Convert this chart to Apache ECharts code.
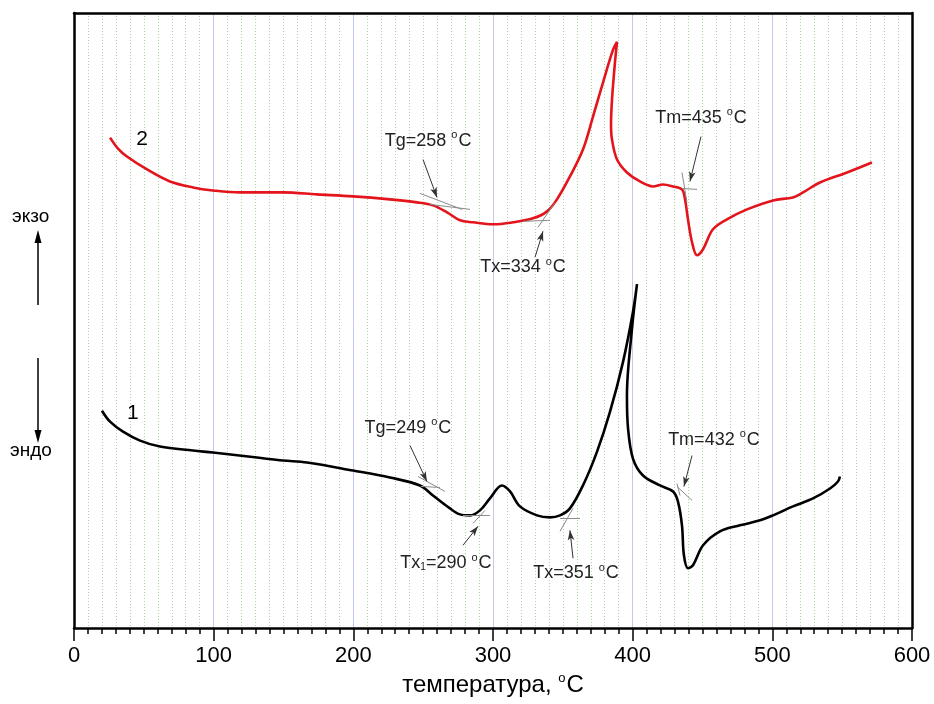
<!DOCTYPE html>
<html lang="ru">
<head>
<meta charset="UTF-8">
<title>DSC</title>
<style>
  html, body { margin: 0; padding: 0; background: #fff; }
  #chart { width: 934px; height: 704px; }
</style>
</head>
<body>
<div id="chart"></div>
<script src="https://cdn.jsdelivr.net/npm/echarts@6/dist/echarts.min.js"></script>
<script>
// x ticks
var xTicks = [0, 100, 200, 300, 400, 500, 600];

// curve 2 (red): temperature, signal (arbitrary units)
var redT = [25.8, 31.5, 37.9, 52.3, 68.7, 85.2, 99.5, 118.9, 149.6, 174.0, 199.8, 226.2, 245.6, 257.0,
    267.1, 276.4, 285.7, 300.0, 314.3, 328.6, 338.7, 345.8, 355.1, 364.4, 371.6, 378.7,
    385.9, 388.8, 387.3, 385.2, 384.5, 385.2, 388.8, 395.9, 405.2, 414.5, 421.7, 428.9,
    435.3, 437.5, 439.6, 442.5, 446.1, 450.4, 457.5, 467.5, 481.9, 500.5, 514.8, 522.0,
    534.1, 553.5, 571.3];
var redY = [492, 481, 473, 460, 448, 442, 439, 437, 437, 435, 433, 430, 427, 424,
    417, 409, 407, 405, 407, 411, 418, 430, 453, 480, 513, 547,
    580, 588, 567, 530, 505, 490, 470, 457, 448, 443, 445, 443,
    440, 430, 410, 387, 374, 380, 400, 410, 420, 429, 432, 437,
    447, 457, 467];

// curve 1 (black)
var blackT = [20.0, 25.8, 35.1, 47.3, 61.6, 85.2, 99.5, 131.0, 149.6, 166.8, 199.8, 226.2, 247.7,
    257.0, 269.2, 276.4, 283.5, 290.7, 297.8, 306.4, 312.2, 319.3, 331.5, 340.8, 348.0,
    355.1, 364.4, 374.5, 383.8, 393.1, 400.2, 403.1, 399.5, 395.9, 396.7, 400.2, 407.4,
    419.6, 428.9, 432.4, 435.3, 436.7, 439.6, 443.2, 450.4, 462.5, 476.8, 491.2, 500.5,
    514.8, 529.1, 541.3, 547.0, 548.4];
var blackY = [218, 207, 197, 188, 182, 178, 176, 171, 168, 166, 158, 151, 143,
    133, 120, 114, 113, 118, 130, 143, 137, 122, 113, 111, 113,
    120, 143, 177, 217, 267, 317, 345, 300, 233, 200, 170, 153,
    143, 137, 127, 103, 73, 60, 63, 83, 97, 103, 108, 113,
    122, 130, 140, 147, 152];

function zip(a, b) {
    var out = [];
    for (var i = 0; i < a.length; i++) out.push([a[i], b[i]]);
    return out;
}

var rich = {
    t: { fontSize: 18, color: '#222', fontFamily: 'Liberation Sans, Arial', lineHeight: 22 },
    s: { fontSize: 11, color: '#222', fontFamily: 'Liberation Sans, Arial', verticalAlign: 'top', lineHeight: 22, padding: [0, 1, 13, 0] },
    b: { fontSize: 10, color: '#222', fontFamily: 'Liberation Sans, Arial', lineHeight: 22, padding: [9, 0, 0, 0] },
    n: { fontSize: 21, color: '#000', fontFamily: 'Liberation Sans, Arial', lineHeight: 24 }
};

function lbl(x, y, text) {
    return { coord: [x, y], label: { formatter: text } };
}
function seg(x1, y1, x2, y2) {
    return [{ coord: [x1, y1] }, { coord: [x2, y2] }];
}
function arrow(x1, y1, x2, y2) {
    return [{ coord: [x1, y1], symbol: 'none' },
            { coord: [x2, y2], symbol: 'arrow', symbolSize: [5, 10] }];
}

var grayLine = { color: '#8a8a8a', width: 1, type: 'solid' };
var arrowLine = { color: '#333', width: 1, type: 'solid' };

var markPointBase = {
    symbol: 'circle',
    symbolSize: 1,
    itemStyle: { color: 'rgba(0,0,0,0)' },
    label: { show: true, position: 'inside', rich: rich },
    silent: true,
    animation: false
};

var frameAxis = {
    axisLine: { show: true, onZero: false, lineStyle: { color: '#000', width: 2.5 } },
    axisTick: { show: false }, axisLabel: { show: false }, splitLine: { show: false }
};

var chart = echarts.init(document.getElementById('chart'));
var option = {
    backgroundColor: '#fff',
    animation: false,
    grid: { left: 74, right: 22, top: 13, bottom: 74 },
    xAxis: [{
        type: 'value', min: 0, max: 600, interval: 100,
        name: '{a|температура, }{s|o}{a|C}',
        nameLocation: 'middle', nameGap: 44,
        nameTextStyle: {
            rich: {
                a: { fontSize: 24, color: '#000', fontFamily: 'Liberation Sans Narrow, Liberation Sans', lineHeight: 26 },
                s: { fontSize: 13, color: '#000', fontFamily: 'Liberation Sans Narrow, Liberation Sans', verticalAlign: 'top', lineHeight: 26, padding: [0, 1, 14, 0] }
            }
        },
        axisLine: { show: true, onZero: false, lineStyle: { color: '#000', width: 2.5 } },
        axisTick: { show: true, length: 13, lineStyle: { color: '#000', width: 1.5 } },
        minorTick: { show: true, splitNumber: 10, length: 6, lineStyle: { color: '#000', width: 1.5 } },
        axisLabel: {
            color: '#000', fontSize: 22, margin: 17,
            fontFamily: 'Liberation Sans Narrow, Liberation Sans',
            formatter: function (v) { return xTicks.indexOf(v) >= 0 ? String(v) : ''; }
        },
        splitLine: { show: true, lineStyle: { color: '#c6c6ee', width: 1 } },
        minorSplitLine: { show: true, lineStyle: { color: '#acd9a2', width: 1, type: [1, 2] } }
    }, Object.assign({ type: 'value', min: 0, max: 600, position: 'top' }, frameAxis)],
    yAxis: [
        Object.assign({ type: 'value', min: 0, max: 617, position: 'left' }, frameAxis),
        Object.assign({ type: 'value', min: 0, max: 617, position: 'right' }, frameAxis)
    ],
    graphic: [
        { type: 'text', left: 12, top: 207, style: { text: 'экзо', fontSize: 19, fill: '#000', fontFamily: 'Liberation Sans, Arial' } },
        { type: 'line', shape: { x1: 38, y1: 305, x2: 38, y2: 240 }, style: { stroke: '#000', lineWidth: 1.5 } },
        { type: 'polygon', shape: { points: [[38, 230], [34.5, 243], [41.5, 243]] }, style: { fill: '#000' } },
        { type: 'line', shape: { x1: 38, y1: 358, x2: 38, y2: 432 }, style: { stroke: '#000', lineWidth: 1.5 } },
        { type: 'polygon', shape: { points: [[38, 443], [34.5, 430], [41.5, 430]] }, style: { fill: '#000' } },
        { type: 'text', left: 10, top: 441, style: { text: 'эндо', fontSize: 19, fill: '#000', fontFamily: 'Liberation Sans, Arial' } }
    ],
    series: [
        {
            name: '2', type: 'line', data: zip(redT, redY),
            showSymbol: false, smooth: 0.35, clip: false,
            lineStyle: { color: '#e3141b', width: 2.6 },
            markPoint: Object.assign({}, markPointBase, {
                data: [
                    lbl(48.7, 490, '{n|2}'),
                    lbl(253.5, 489, '{t|Tg=258 }{s|o}{t|C}'),
                    lbl(321.5, 362, '{t|Tx=334 }{s|o}{t|C}'),
                    lbl(448.9, 512, '{t|Tm=435 }{s|o}{t|C}')
                ]
            }),
            markLine: {
                silent: true, animation: false, symbol: ['none', 'none'],
                label: { show: false },
                lineStyle: grayLine,
                data: [
                    seg(247.7, 436, 277.8, 420), seg(254.9, 425, 283.5, 420),
                    seg(321.5, 408, 340.8, 409), seg(332.2, 402, 344.4, 427),
                    seg(435.3, 441, 446.1, 440), seg(435.3, 457, 438.9, 427)
                ].concat([
                    arrow(249.9, 470, 259.9, 432),
                    arrow(330.1, 372, 335.8, 398),
                    arrow(448.9, 493, 441.0, 448)
                ].map(function (a) { a[0].lineStyle = arrowLine; return a; }))
            }
        },
        {
            name: '1', type: 'line', data: zip(blackT, blackY),
            showSymbol: false, smooth: 0.35, clip: false,
            lineStyle: { color: '#000', width: 2.6 },
            markPoint: Object.assign({}, markPointBase, {
                data: [
                    lbl(42.2, 215, '{n|1}'),
                    lbl(239.1, 201, '{t|Tg=249 }{s|o}{t|C}'),
                    lbl(266.3, 65, '{t|Tx}{b|1}{t|=290 }{s|o}{t|C}'),
                    lbl(359.4, 55, '{t|Tx=351 }{s|o}{t|C}'),
                    lbl(458.2, 189, '{t|Tm=432 }{s|o}{t|C}')
                ]
            }),
            markLine: {
                silent: true, animation: false, symbol: ['none', 'none'],
                label: { show: false },
                lineStyle: grayLine,
                data: [
                    seg(246.3, 152, 265.6, 137), seg(248.4, 142, 262.0, 141),
                    seg(278.5, 113, 297.8, 113), seg(285.7, 105, 294.3, 118),
                    seg(348.0, 110, 362.3, 110), seg(348.0, 97, 357.3, 120),
                    seg(431.7, 142, 442.5, 128), seg(431.7, 145, 433.9, 133)
                ].concat([
                    arrow(240.6, 183, 252.7, 147),
                    arrow(278.5, 83, 289.3, 102),
                    arrow(357.3, 70, 355.1, 98),
                    arrow(442.5, 173, 436.7, 142)
                ].map(function (a) { a[0].lineStyle = arrowLine; return a; }))
            }
        }
    ]
};
chart.setOption(option);
</script>
</body>
</html>
